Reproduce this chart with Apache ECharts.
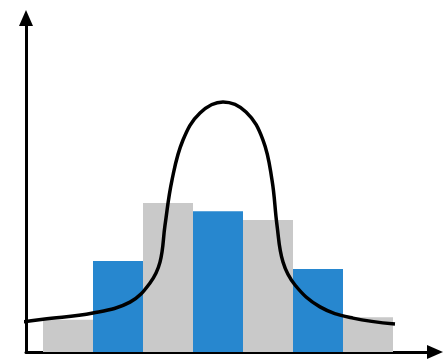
<!DOCTYPE html>
<html>
<head>
    <meta charset="utf-8">
    <title>Histogram with curve</title>
    <script src="https://cdn.jsdelivr.net/npm/echarts@6/dist/echarts.min.js"></script>
    <style type="text/css">
        html, body {margin: 0; padding: 0; background-color: #fff;}
    </style>
</head>
<body>
<div id="container" style="width: 445px;height:360px;"></div>

<script type="text/javascript">
    // bins: bar i spans [i, i+1] on the x axis
    var binCenters = [0.5, 1.5, 2.5, 3.5, 4.5, 5.5, 6.5];
    var barHeights = [9.4, 26.6, 43.6, 41.2, 38.6, 24.3, 10.2];

    // hand drawn curve
    var curveX = [-0.72, 0, 1.0, 1.74, 2.14, 2.34, 2.44, 2.58, 2.8, 3.14, 3.6,
                  4.06, 4.4, 4.58, 4.68, 4.8, 5.04, 5.54, 6.2, 7.04];
    var curveY = [8.2, 9.6, 11.4, 14.6, 20.2, 26.3, 37.1, 50.3, 62.0, 69.9, 73.1,
                  70.2, 62.0, 50.3, 37.1, 26.3, 19.6, 13.2, 9.9, 8.2];

    var barColors = ['#c9c9c9', '#2787cf'];

    var barData = [];
    for (var i = 0; i < binCenters.length; i++) {
        barData.push({
            value: [binCenters[i], barHeights[i]],
            itemStyle: {color: barColors[i % 2]}
        });
    }
    var curveData = [];
    for (var j = 0; j < curveX.length; j++) {
        curveData.push([curveX[j], curveY[j]]);
    }

    var myChart = echarts.init(document.getElementById('container'));
    var option = {
        animation: false,
        grid: {left: 26, right: 10, top: 18, bottom: 8},
        xAxis: {
            type: 'value',
            min: -0.34,
            max: 7.84,
            axisLine: {
                onZero: false,
                symbol: ['none', 'triangle'],
                symbolSize: [14, 16],
                lineStyle: {color: '#000', width: 3}
            },
            axisTick: {show: false},
            axisLabel: {show: false},
            splitLine: {show: false}
        },
        yAxis: {
            type: 'value',
            min: 0,
            max: 97.7,
            axisLine: {
                show: true,
                onZero: false,
                symbol: ['none', 'triangle'],
                symbolSize: [14, 16],
                lineStyle: {color: '#000', width: 3}
            },
            axisTick: {show: false},
            axisLabel: {show: false},
            splitLine: {show: false}
        },
        series: [
            {
                type: 'bar',
                barWidth: 50,
                data: barData,
                z: 1
            },
            {
                type: 'line',
                data: curveData,
                smooth: 0.4,
                showSymbol: false,
                clip: false,
                lineStyle: {color: '#000', width: 3.5},
                z: 3
            }
        ]
    };
    myChart.setOption(option);
</script>
</body>
</html>
